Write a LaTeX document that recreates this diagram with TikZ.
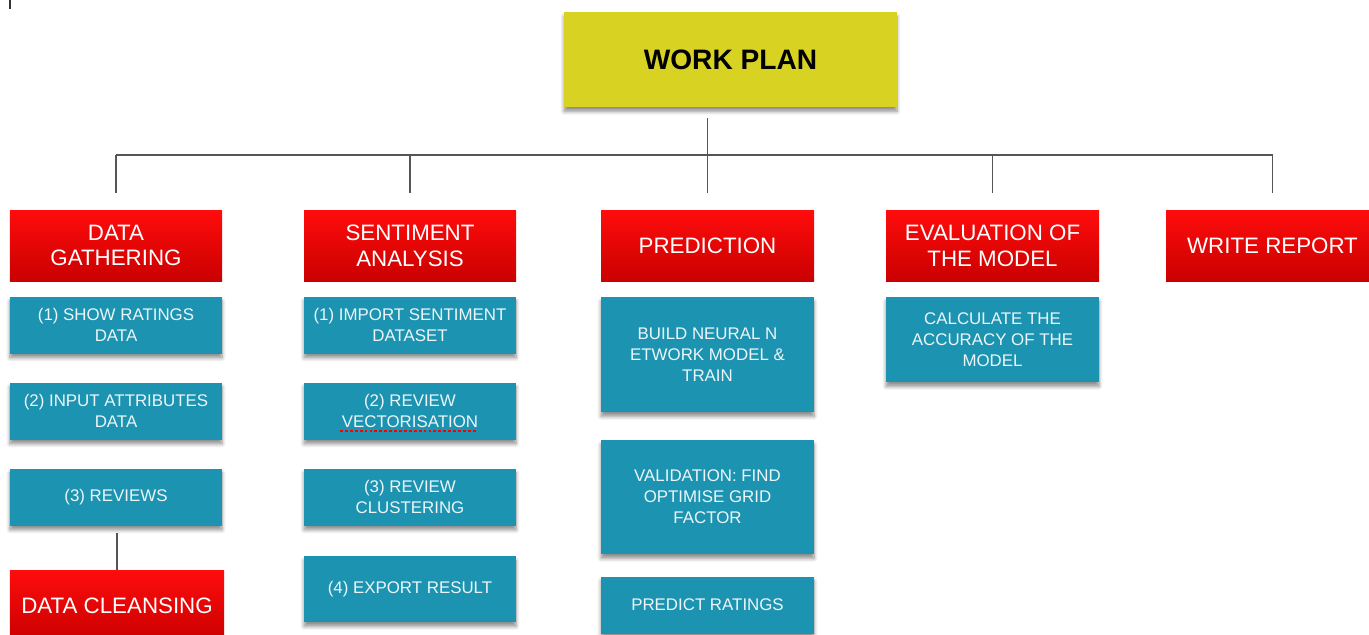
\documentclass[tikz,border=0pt]{standalone}
\usepackage{fontspec}
\setmainfont{Liberation Sans}
\usetikzlibrary{calc,shadows.blur}

\definecolor{planyellow}{RGB}{216,210,34}
\definecolor{hdrtop}{RGB}{255,12,12}
\definecolor{hdrbot}{RGB}{202,0,0}
\definecolor{taskblue}{RGB}{28,147,177}
\definecolor{tasktext}{RGB}{236,246,248}
\definecolor{linkgray}{RGB}{85,85,85}

\tikzset{
  box/.style={inner sep=0pt, outer sep=0pt, align=center},
  planbox/.style={box, fill=planyellow, text=black,
    font=\fontsize{16}{19}\selectfont\bfseries,
    minimum width=66.6mm, minimum height=19mm,
    blur shadow={shadow xshift=0pt, shadow yshift=-2.5pt, shadow blur steps=6, shadow opacity=45}},
  hdr/.style={box, top color=hdrtop, bottom color=hdrbot, text=white,
    font=\fontsize{12.7}{14.7}\selectfont,
    minimum width=42.4mm, minimum height=14.2mm},
  task/.style={box, fill=taskblue, text=tasktext,
    font=\fontsize{9.6}{11.9}\selectfont,
    minimum width=42.4mm,
    blur shadow={shadow xshift=0pt, shadow yshift=-2.5pt, shadow blur steps=6, shadow opacity=45}},
  link/.style={draw=linkgray, line width=0.6pt},
  spellmark/.style={draw=red, line width=1.1pt, dash pattern=on 1.6pt off 1.2pt},
}

\begin{document}
\begin{tikzpicture}[x=0.2mm, y=-0.2mm]
  \useasboundingbox (0,0) rectangle (1369,634);

  % small mark in the upper left corner
  \draw[line width=0.8pt, black!80] (10,0) -- (10,9);

  % root
  \node[planbox] (wp) at (730.5,59.5) {WORK PLAN};

  % column headers
  \node[hdr] (dg) at (116,245.5)    {DATA\\GATHERING};
  \node[hdr] (sa) at (410,245.5)    {SENTIMENT\\ANALYSIS};
  \node[hdr, minimum width=42.6mm] (pr) at (707.5,245.5) {PREDICTION};
  \node[hdr, minimum width=42.6mm] (ev) at (992.5,245.5) {EVALUATION OF\\THE MODEL};
  \node[hdr, minimum width=42.6mm] (wr) at (1272.5,245.5) {WRITE REPORT};

  % data gathering tasks
  \node[task, minimum height=11.4mm] (g1) at (116,325) {(1) SHOW RATINGS\\DATA};
  \node[task, minimum height=11.4mm] (g2) at (116,411) {(2) INPUT ATTRIBUTES\\DATA};
  \node[task, minimum height=11.4mm] (g3) at (116,497) {(3) REVIEWS};
  \node[hdr, minimum width=42.8mm] (dc) at (117,605.5) {DATA CLEANSING};

  % sentiment analysis tasks
  \node[task, minimum height=11.4mm] (s1) at (410,325) {(1) IMPORT SENTIMENT\\DATASET};
  \node[task, minimum height=11.4mm] (s2) at (410,411) {(2) REVIEW\\VECTORISATION};
  \node[task, minimum height=11.4mm] (s3) at (410,497) {(3) REVIEW\\CLUSTERING};
  \node[task, minimum height=13.2mm] (s4) at (410,589) {(4) EXPORT RESULT};

  % prediction tasks
  \node[task, minimum width=42.6mm, minimum height=23mm]   (p1) at (707.5,354.5) {BUILD NEURAL N\\ETWORK MODEL \&\\TRAIN};
  \node[task, minimum width=42.6mm, minimum height=22.8mm] (p2) at (707.5,497)   {VALIDATION: FIND\\OPTIMISE GRID\\FACTOR};
  \node[task, minimum width=42.6mm, minimum height=11.4mm] (p3) at (707.5,605)   {PREDICT RATINGS};

  % evaluation task
  \node[task, minimum width=42.6mm, minimum height=17mm] (e1) at (992.5,339.5) {CALCULATE THE\\ACCURACY OF THE\\MODEL};

  % spell-check underline under the second sentiment task
  \draw[spellmark] ($(s2.center)+(-70,20)$) -- ($(s2.center)+(66,20)$);

  % tree connectors
  \coordinate (bus) at (708,155);
  \draw[link, shorten <=2.2mm, shorten >=3.4mm] (wp.south -| pr.north) -- (pr.north);
  \draw[link] (dg.north |- bus) -- (wr.north |- bus);
  \draw[link, shorten >=3.4mm] (dg.north |- bus) -- (dg.north);
  \draw[link, shorten >=3.4mm] (sa.north |- bus) -- (sa.north);
  \draw[link, shorten >=3.4mm] (ev.north |- bus) -- (ev.north);
  \draw[link, shorten >=3.4mm] (wr.north |- bus) -- (wr.north);
  \draw[link, shorten <=1.4mm] (g3.south -| dc.north) -- (dc.north);
\end{tikzpicture}
\end{document}
